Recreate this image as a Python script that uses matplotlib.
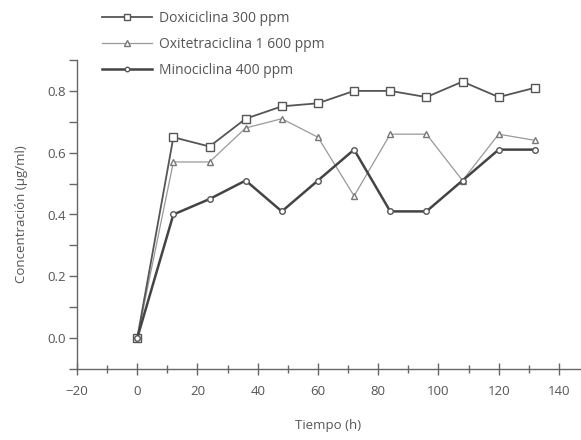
import matplotlib
matplotlib.use("Agg")
import matplotlib.pyplot as plt
from matplotlib.ticker import MultipleLocator

tiempo = [0, 12, 24, 36, 48, 60, 72, 84, 96, 108, 120, 132]
doxiciclina = [0.0, 0.65, 0.62, 0.71, 0.75, 0.76, 0.80, 0.80, 0.78, 0.83, 0.78, 0.81]
oxitetraciclina = [0.0, 0.57, 0.57, 0.68, 0.71, 0.65, 0.46, 0.66, 0.66, 0.51, 0.66, 0.64]
minociclina = [0.0, 0.40, 0.45, 0.51, 0.41, 0.51, 0.61, 0.41, 0.41, 0.51, 0.61, 0.61]

labels = ["Doxiciclina 300 ppm", "Oxitetraciclina 1 600 ppm", "Minociclina 400 ppm"]

plt.rcParams['font.family'] = ['Open Sans', 'DejaVu Sans']
txt = '#555555'

fig = plt.figure(figsize=(5.81, 4.40), dpi=100)
ax = fig.add_axes([77/581, 1-369/440, (580-77)/581, (369-60)/440])

l1, = ax.plot(tiempo, doxiciclina, color='#555555', lw=1.3, marker='s', ms=6,
              mfc='white', mec='#555555', mew=1.0, label=labels[0], zorder=3)
l2, = ax.plot(tiempo, oxitetraciclina, color='#999999', lw=0.9, marker='^', ms=5,
              mfc='white', mec='#777777', mew=1.0, label=labels[1], zorder=2)
l3, = ax.plot(tiempo, minociclina, color='#444444', lw=1.8, marker='o', ms=4,
              mfc='white', mec='#555555', mew=1.0, label=labels[2], zorder=4)

ax.set_xlim(-20, 147)
ax.set_ylim(-0.1, 0.9)
ax.set_xticks([-20, 0, 20, 40, 60, 80, 100, 120, 140])
ax.set_xticklabels(['−20', '0', '20', '40', '60', '80', '100', '120', '140'])
ax.xaxis.set_minor_locator(MultipleLocator(10))
ax.set_yticks([0.0, 0.2, 0.4, 0.6, 0.8])
ax.set_yticklabels(['0.0', '0.2', '0.4', '0.6', '0.8'])
ax.yaxis.set_minor_locator(MultipleLocator(0.1))

for s in ['top', 'right']:
    ax.spines[s].set_visible(False)
for s in ['left', 'bottom']:
    ax.spines[s].set_color('#666666')
    ax.spines[s].set_linewidth(1.0)

ax.tick_params(axis='x', which='major', direction='inout', length=9, width=1, colors='#666666',
               labelcolor=txt, labelsize=9.5, pad=7)
ax.tick_params(axis='x', which='minor', direction='inout', length=6, width=1, colors='#666666')
ax.tick_params(axis='y', which='major', direction='out', length=6, width=1, colors='#666666',
               labelcolor=txt, labelsize=9.5, pad=2)
ax.tick_params(axis='y', which='minor', direction='out', length=6, width=1, colors='#666666')

ax.set_xlabel('Tiempo (h)', fontsize=9.5, color=txt, labelpad=15)
ax.set_ylabel('Concentración (µg/ml)', fontsize=9.5, color=txt, labelpad=14)

leg = fig.legend(handles=[l1, l2, l3], loc='upper left', bbox_to_anchor=(102/581, 1-11/440),
                 frameon=False, fontsize=10, handlelength=3.6, handletextpad=0.5,
                 labelspacing=0.78, borderaxespad=0, borderpad=0, markerscale=0.8)
for t in leg.get_texts():
    t.set_color(txt)

fig.savefig('out.png', dpi=100)
